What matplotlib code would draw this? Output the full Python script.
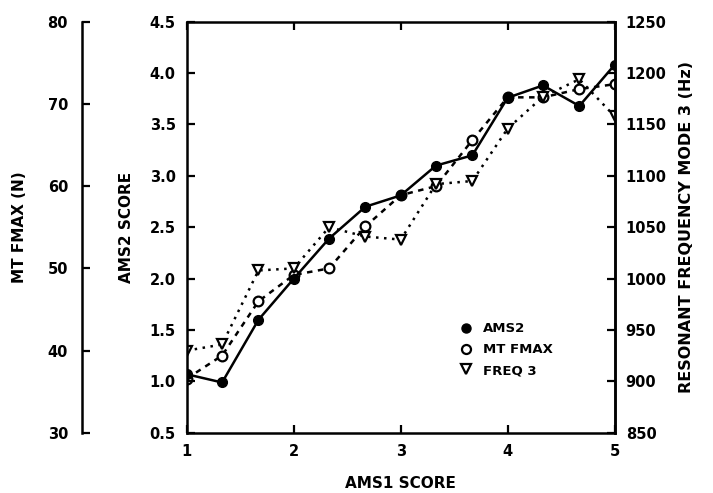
import numpy as np
import matplotlib
matplotlib.use('Agg')
import matplotlib.pyplot as plt
from matplotlib.lines import Line2D

# AMS1 score bins (x axis)
ams1 = [1.0, 1.33, 1.67, 2.0, 2.33, 2.67, 3.0, 3.33, 3.67, 4.0, 4.33, 4.67, 5.0]

# series
ams2 = [1.07, 0.99, 1.60, 2.00, 2.39, 2.70, 2.81, 3.10, 3.20, 3.76, 3.88, 3.68, 4.08]
mt_fmax = [36.6, 39.4, 46.0, 49.2, 50.0, 55.1, 58.9, 60.0, 65.6, 70.8, 70.8, 71.8, 72.4]
freq3 = [930, 936, 1008, 1010, 1050, 1041, 1038, 1092, 1095, 1146, 1177, 1194, 1158]

ams2_ticks = [0.5, 1.0, 1.5, 2.0, 2.5, 3.0, 3.5, 4.0, 4.5]
mt_ticks = [30, 40, 50, 60, 70, 80]
hz_ticks = [850, 900, 950, 1000, 1050, 1100, 1150, 1200, 1250]

plt.rcParams['font.family'] = 'DejaVu Sans'
plt.rcParams['font.weight'] = 'bold'

fig = plt.figure(figsize=(7.13, 4.93), dpi=100)
ax = fig.add_axes([0.262, 0.122, 0.600, 0.834])
ax_mt = ax.twinx()
ax_hz = ax.twinx()
# keep the AMS2 series on top of the other two
ax.set_zorder(ax_hz.get_zorder() + 1)
ax.patch.set_visible(False)

lw = 1.8
ms = 7
tick_fs = 10.5
lab_fs = 11

# AMS2 - solid, filled circles
ax.plot(ams1, ams2, color='black', linestyle='-', linewidth=lw,
        marker='o', markersize=ms, markerfacecolor='black', zorder=3)
# MT FMAX - dashed, open circles
ax_mt.plot(ams1, mt_fmax, color='black', linestyle=(0, (2.2, 2.2)), linewidth=lw,
           marker='o', markersize=ms, markerfacecolor='white', markeredgewidth=1.6)
# FREQ 3 - dotted, open triangles
ax_hz.plot(ams1, freq3, color='black', linestyle=(0, (1, 2.2)), linewidth=lw,
           marker='v', markersize=ms, markerfacecolor='white', markeredgewidth=1.6)

ax.set_xlim(1, 5)
ax.set_ylim(0.5, 4.5)
ax_mt.set_ylim(30, 80)
ax_hz.set_ylim(850, 1250)

ax.set_xticks([1, 2, 3, 4, 5])
ax.set_xticklabels(['1', '2', '3', '4', '5'])
ax.set_yticks(ams2_ticks)
ax.set_yticklabels([f'{t:.1f}' for t in ams2_ticks])
ax.tick_params(axis='x', direction='in', length=6, width=1.6, top=True,
               labelsize=tick_fs, pad=8)
ax.tick_params(axis='y', direction='in', length=6, width=1.6, right=False,
               labelsize=tick_fs, pad=8)
for s in ax.spines.values():
    s.set_linewidth(1.8)

# MT FMAX axis, detached on the far left
for name, s in ax_mt.spines.items():
    s.set_visible(name == 'left')
ax_mt.spines['left'].set_position(('axes', -0.245))
ax_mt.spines['left'].set_linewidth(1.8)
ax_mt.yaxis.set_ticks_position('left')
ax_mt.yaxis.set_label_position('left')
ax_mt.set_yticks(mt_ticks)
ax_mt.tick_params(axis='y', direction='in', length=6, width=1.6,
                  labelsize=tick_fs, pad=10)
ax_mt.set_ylabel('MT FMAX (N)', fontsize=lab_fs, fontweight='bold', labelpad=15)

# resonant frequency axis on the right
for name, s in ax_hz.spines.items():
    s.set_visible(name == 'right')
ax_hz.spines['right'].set_linewidth(1.8)
ax_hz.set_yticks(hz_ticks)
ax_hz.tick_params(axis='y', direction='in', length=6, width=1.6,
                  labelsize=tick_fs, pad=8)
ax_hz.set_ylabel('RESONANT FREQUENCY MODE 3 (Hz)', fontsize=11.5,
                 fontweight='bold', rotation=90, labelpad=9)

ax.set_xlabel('AMS1 SCORE', fontsize=lab_fs, fontweight='bold', labelpad=12)
ax.set_ylabel('AMS2 SCORE', fontsize=lab_fs, fontweight='bold', labelpad=11)

handles = [
    Line2D([], [], linestyle='none', marker='o', color='black', markersize=6.5),
    Line2D([], [], linestyle='none', marker='o', color='black', markersize=6.5,
           markerfacecolor='white', markeredgewidth=1.6),
    Line2D([], [], linestyle='none', marker='v', color='black', markersize=6.5,
           markerfacecolor='white', markeredgewidth=1.6),
]
leg = ax.legend(handles, ['AMS2', 'MT FMAX', 'FREQ 3'], frameon=False,
                loc='upper left', bbox_to_anchor=(0.625, 0.285),
                handlelength=0.8, handletextpad=0.9, labelspacing=0.6,
                borderpad=0, prop={'size': 9.5, 'weight': 'bold'})

fig.savefig('out.png', dpi=100)
